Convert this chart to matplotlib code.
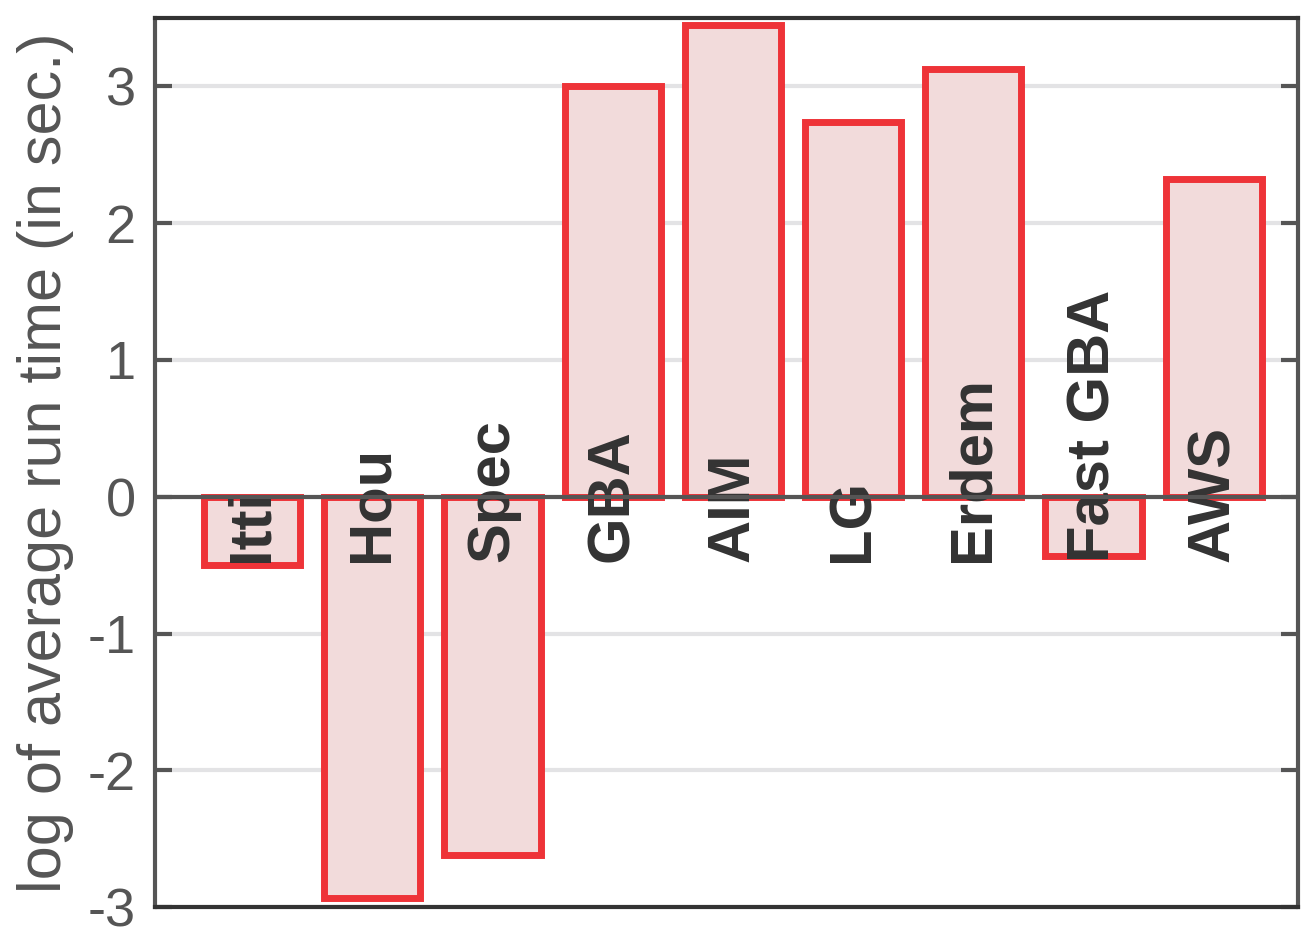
import numpy as np
import matplotlib
matplotlib.use("Agg")
import matplotlib.pyplot as plt

plt.rcParams['font.family'] = ['Liberation Sans', 'DejaVu Sans']

# method names and log run times
methods = ["Itti", "Hou", "Spec", "GBA", "AIM", "LG", "Erdem", "Fast GBA", "AWS"]
log_times = [-0.50, -2.93, -2.62, 3.00, 3.45, 2.74, 3.13, -0.435, 2.32]
yticks = [-3, -2, -1, 0, 1, 2, 3]

fig = plt.figure(figsize=(13.15, 9.46), dpi=100)
ax = fig.add_axes([0.118, 0.041, 0.869, 0.940])

pos = np.arange(1, len(methods) + 1)
ax.bar(pos, log_times, width=0.8, color='#f2dbdb', edgecolor='#ee3338',
       linewidth=5, zorder=2)

# zero line
ax.axhline(0, color='#555555', linewidth=3, zorder=4)

# labels inside the plot
for p, name in zip(pos, methods):
    ax.text(p, -0.48, name, rotation=90, ha='center', va='bottom',
            fontsize=43, fontweight='bold', color='#333333', zorder=3)

ax.set_xlim(0.193, 9.70)
ax.set_ylim(-3, 3.5)
ax.set_xticks([])
ax.set_yticks(yticks)
ax.set_yticklabels([str(t) for t in yticks])
ax.yaxis.grid(True, color='#e3e3e5', linewidth=3, zorder=0)
ax.set_axisbelow(True)

ax.tick_params(axis='y', direction='in', length=12, width=3, colors='#555555',
               labelsize=39, right=True, pad=14)
ax.set_ylabel("log of average run time (in sec.)", fontsize=44, color='#555555',
              labelpad=10)

for s in ['left', 'right']:
    ax.spines[s].set_color('#555555')
    ax.spines[s].set_linewidth(3)
for s in ['top', 'bottom']:
    ax.spines[s].set_color('#333333')
    ax.spines[s].set_linewidth(3)

fig.savefig("out.png", dpi=100)
